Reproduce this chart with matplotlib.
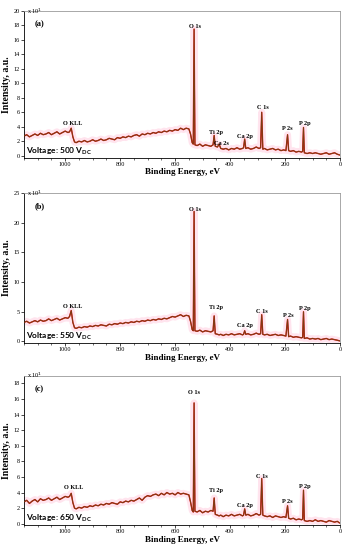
import matplotlib
matplotlib.use("Agg")
import matplotlib.pyplot as plt
from matplotlib.ticker import MultipleLocator

# binding energy grid (eV), shared by the three spectra
energy = [1150, 1140, 1130, 1120, 1110, 1100, 1090, 1080, 1070, 1060, 1050, 1040, 1030, 1020, 1010, 1000, 990,
          984, 978, 972, 966,
          960, 950, 940, 930, 920, 910, 900, 890, 880, 870, 860, 850, 840, 830, 820, 810, 800, 790, 780, 770,
          760, 750, 740, 730, 720, 710, 700, 690, 680, 670, 660, 650, 640, 630, 620, 610, 600, 590, 580, 570, 560,
          550, 544, 538, 534, 531, 528, 520, 510, 500, 490, 480, 470, 462,
          458, 454, 446, 440, 434, 425, 415, 405, 395, 385, 375, 365, 355, 351,
          347, 343, 335, 325, 315, 305, 295, 289,
          285, 281, 275, 265, 255, 245, 235, 225, 215, 205, 197,
          191, 187, 180, 170, 160, 150, 140, 136,
          133, 130, 120, 110, 100, 90, 80, 70, 60, 50, 40, 30, 20, 10, 2]

int_500 = [2.7, 2.9, 2.6, 2.8, 3.0, 2.8, 3.1, 2.9, 3.0, 3.2, 2.9, 3.1, 3.3, 3.0, 3.2, 3.4, 3.2,
           3.3, 3.8, 2.6, 1.9,
           1.8, 2.0, 1.9, 2.1, 1.9, 2.0, 2.2, 2.0, 2.1, 2.3, 2.1, 2.2, 2.4, 2.3, 2.2, 2.5, 2.4, 2.6, 2.5, 2.7,
           2.6, 2.8, 2.9, 2.7, 3.0, 2.9, 3.1, 3.0, 3.2, 3.1, 3.3, 3.2, 3.4, 3.3, 3.5, 3.4, 3.6, 3.5, 3.8, 3.6, 3.8,
           3.7, 3.0, 1.8, 1.6, 17.5, 1.5, 1.4, 1.6, 1.3, 1.5, 1.4, 1.3, 1.5,
           2.8, 1.3, 1.2, 1.6, 1.0, 0.9, 1.0, 0.8, 1.0, 0.9, 1.1, 0.9, 1.0, 1.1,
           2.3, 1.0, 1.1, 0.9, 1.0, 1.2, 1.0, 1.1,
           6.0, 0.9, 1.0, 0.8, 0.9, 1.0, 0.8, 0.9, 0.7, 0.8, 0.7,
           2.9, 0.7, 0.6, 0.7, 0.5, 0.6, 0.5, 0.6,
           3.9, 0.4, 0.3, 0.4, 0.3, 0.4, 0.3, 0.2, 0.3, 0.4, 0.2, 0.3, 0.4, 0.2, 0.1]

int_550 = [3.2, 3.4, 3.1, 3.3, 3.5, 3.3, 3.6, 3.4, 3.5, 3.8, 3.5, 3.7, 3.9, 3.6, 3.8, 4.0, 3.9,
           4.2, 5.2, 3.2, 2.3,
           2.2, 2.4, 2.3, 2.5, 2.4, 2.6, 2.5, 2.7, 2.6, 2.8, 2.7, 2.6, 2.9, 2.8, 3.0, 2.9, 3.1, 3.0, 3.2, 3.1,
           3.3, 3.2, 3.4, 3.3, 3.5, 3.4, 3.6, 3.5, 3.7, 3.6, 3.8, 3.7, 3.9, 3.8, 4.0, 4.2, 4.1, 4.3, 4.5, 4.2, 4.4,
           4.3, 3.4, 2.0, 1.8, 21.9, 1.8, 1.7, 1.9, 1.6, 1.8, 1.7, 1.6, 1.8,
           4.3, 1.3, 1.2, 1.1, 1.2, 1.0, 1.2, 1.1, 1.3, 1.1, 1.2, 1.3, 1.1, 1.2,
           1.8, 1.2, 1.3, 1.1, 1.2, 1.4, 1.2, 1.3,
           4.5, 1.2, 1.1, 1.2, 1.0, 1.1, 1.2, 1.0, 1.1, 1.0, 0.9,
           3.7, 0.8, 0.9, 0.7, 0.8, 0.7, 0.6, 0.7,
           5.0, 0.5, 0.6, 0.4, 0.5, 0.4, 0.5, 0.3, 0.4, 0.5, 0.3, 0.4, 0.3, 0.2, 0.1]

int_650 = [2.8, 3.0, 2.6, 2.9, 3.1, 2.8, 3.2, 3.0, 3.1, 3.3, 3.0, 3.2, 3.4, 3.1, 3.3, 3.5, 3.4,
           3.5, 3.9, 2.7, 2.0,
           1.9, 2.1, 2.0, 2.2, 2.1, 2.3, 2.2, 2.4, 2.3, 2.5, 2.4, 2.6, 2.5, 2.7, 2.6, 2.5, 2.8, 2.7, 2.9, 2.8,
           3.0, 2.9, 3.1, 3.3, 3.0, 3.4, 3.6, 3.5, 3.7, 3.8, 3.6, 3.9, 3.7, 4.0, 3.8, 3.9, 3.7, 4.0, 3.8, 3.9, 3.8,
           3.7, 2.8, 1.7, 1.5, 15.5, 1.6, 1.5, 1.7, 1.4, 1.6, 1.5, 1.7, 1.6,
           3.3, 1.2, 1.1, 1.0, 1.1, 0.9, 1.1, 1.0, 1.2, 1.0, 1.1, 1.2, 1.0, 1.1,
           1.9, 1.1, 1.2, 1.0, 1.1, 1.3, 1.1, 1.2,
           5.8, 1.1, 1.0, 0.9, 1.0, 0.8, 1.0, 0.9, 0.8, 0.9, 0.8,
           2.3, 0.7, 0.6, 0.7, 0.5, 0.6, 0.5, 0.6,
           4.3, 0.4, 0.3, 0.4, 0.3, 0.5, 0.3, 0.4, 0.3, 0.2, 0.4, 0.3, 0.2, 0.3, 0.1]

# peak labels: (text, energy, y)
labels_500 = [("O KLL", 971, 4.4), ("O 1s", 529, 17.9), ("Ti 2p", 453, 3.2), ("Ca 2s", 431, 1.65),
              ("Ca 2p", 347, 2.7), ("C 1s", 281, 6.7), ("P 2s", 193, 3.7), ("P 2p", 128, 4.4)]
labels_550 = [("O KLL", 971, 5.9), ("O 1s", 529, 22.2), ("Ti 2p", 452, 5.7), ("Ca 2p", 345, 2.6),
              ("C 1s", 283, 5.0), ("P 2s", 190, 4.3), ("P 2p", 130, 5.6)]
labels_650 = [("O KLL", 970, 4.7), ("O 1s", 530, 16.8), ("Ti 2p", 450, 4.3), ("Ca 2p", 345, 2.3),
              ("C 1s", 284, 6.0), ("P 2s", 192, 2.9), ("P 2p", 130, 4.8)]

panels = [
    ("(a)", "500", int_500, labels_500, (-0.3, 20), 2, [0.069, 0.713, 0.911, 0.267]),
    ("(b)", "550", int_550, labels_550, (-0.3, 25), 5, [0.069, 0.376, 0.911, 0.273]),
    ("(c)", "650", int_650, labels_650, (-0.2, 19), 2, [0.069, 0.045, 0.911, 0.272]),
]

serif = "Liberation Serif"
fig = plt.figure(figsize=(3.47, 5.50), dpi=100)

for tag, volt, inten, labels, ylim, ystep, rect in panels:
    ax = fig.add_axes(rect)
    ax.plot(energy, inten, color="#ffd3e3", lw=5, alpha=0.6, solid_capstyle="butt", zorder=1)
    ax.plot(energy, inten, color="#e3161b", lw=1.0, zorder=2)
    ax.plot(energy, inten, color="#7a3d12", lw=0.7, zorder=3)

    ax.set_xlim(1150, 0)
    ax.set_ylim(*ylim)
    ax.xaxis.set_major_locator(MultipleLocator(200))
    ax.xaxis.set_minor_locator(MultipleLocator(50))
    ax.yaxis.set_major_locator(MultipleLocator(ystep))
    ax.tick_params(axis="both", which="major", direction="out", length=2, width=0.5,
                   labelsize=4.5, pad=1)
    ax.tick_params(axis="x", which="minor", direction="out", length=1.2, width=0.4)
    for lab in ax.get_xticklabels() + ax.get_yticklabels():
        lab.set_fontfamily(serif)
    ax.spines["top"].set_color("#9a9a9a")
    ax.spines["right"].set_color("#9a9a9a")
    for s in ax.spines.values():
        s.set_linewidth(0.6)

    ax.set_xlabel("Binding Energy, eV", fontfamily=serif, fontweight="bold", fontsize=6.5, labelpad=1)
    ax.set_ylabel("Intensity, a.u.", fontfamily=serif, fontweight="bold", fontsize=7, labelpad=2)

    ax.text(0.01, 1.0, "x 10$^1$", transform=ax.transAxes, fontfamily=serif, fontsize=4.5,
            va="center", ha="left")
    ax.text(0.035, 0.91, tag, transform=ax.transAxes, fontfamily=serif, fontweight="bold",
            fontsize=6, va="center", ha="left")
    ax.text(0.006, 0.008, "Voltage: " + volt + " V$_{\\mathregular{DC}}$", transform=ax.transAxes,
            fontfamily="Lato", fontweight="bold", fontsize=6, va="bottom", ha="left")
    for txt, x, y in labels:
        ax.text(x, y, txt, fontfamily=serif, fontweight="bold", fontsize=4.5,
                ha="center", va="center")

fig.savefig("out.png", dpi=100)
